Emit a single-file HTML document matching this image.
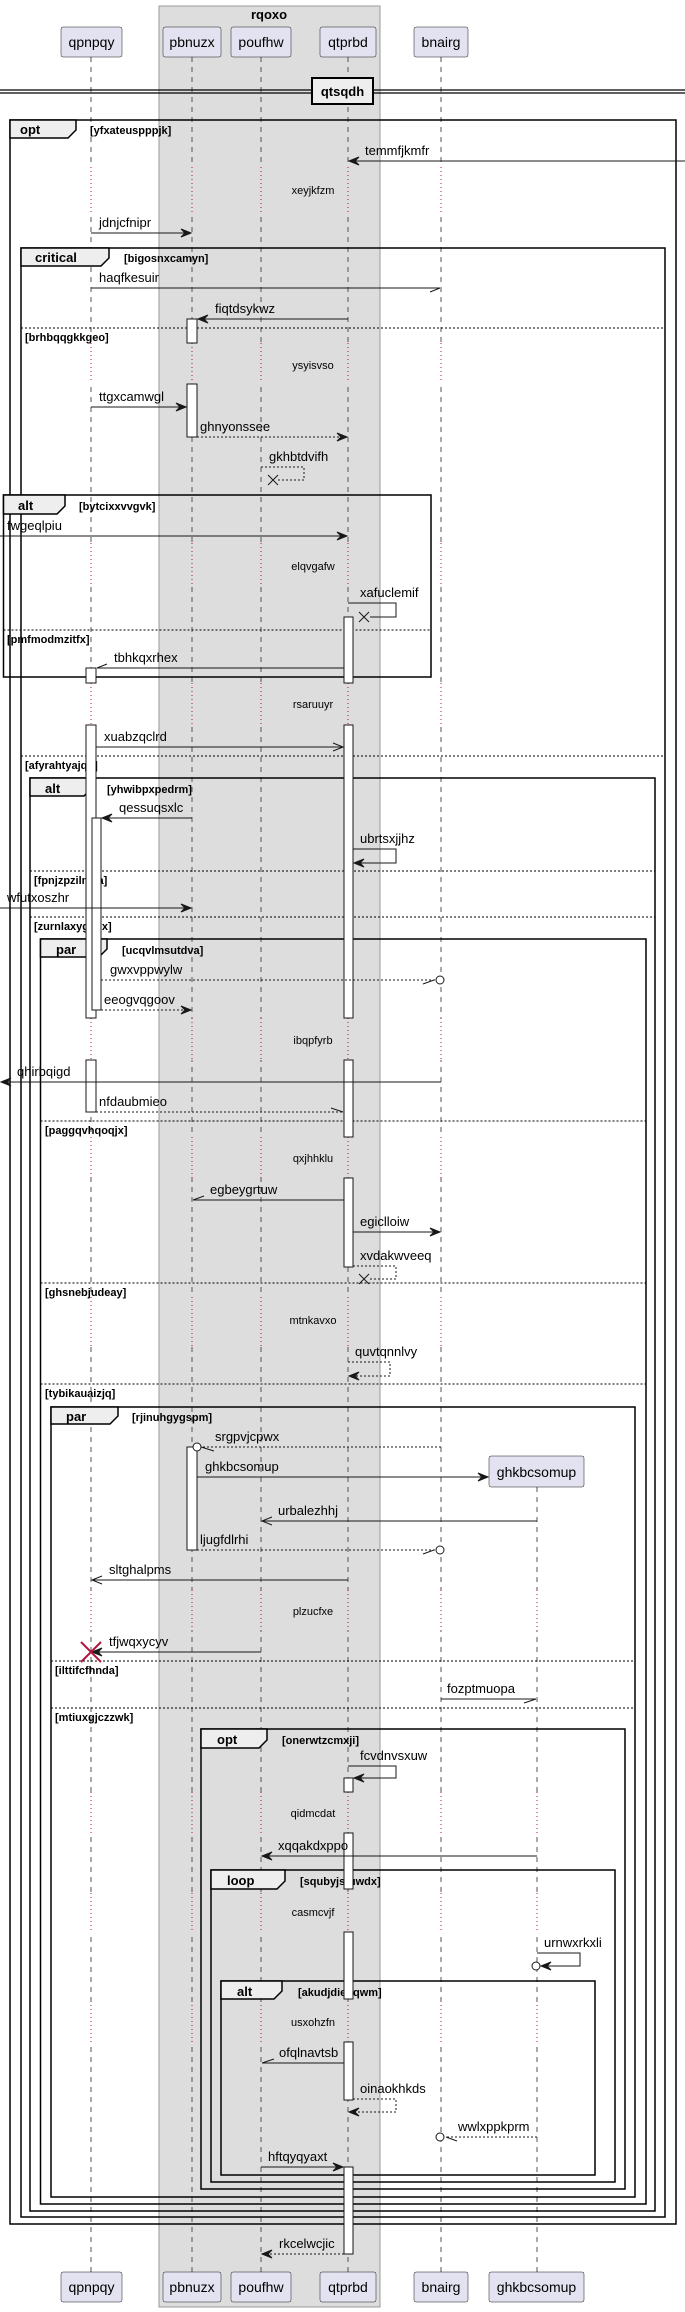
<!DOCTYPE html>
<html><head><meta charset="utf-8"><style>
html,body{margin:0;padding:0;background:#fff}
svg{display:block}
text{font-family:"Liberation Sans",sans-serif;fill:#000}
.m{font-size:13px}
.d{font-size:11px}
.b{font-weight:bold;font-size:13px}
.c{font-weight:bold;font-size:11px}
.p{font-size:14px}
.ll{stroke:#555;stroke-width:1;stroke-dasharray:5,5}
.s{stroke:#181818;stroke-width:1;fill:none}
.ds{stroke:#181818;stroke-width:1;fill:none;stroke-dasharray:2,2}
.fr{stroke:#000;stroke-width:1.5;fill:none}
.tab{stroke:#000;stroke-width:1.5;fill:#eee}
.el{stroke:#000;stroke-width:1;stroke-dasharray:2,2}
.act{fill:#fff;stroke:#181818;stroke-width:1}
.ar{fill:#181818;stroke:#181818;stroke-width:1}
.pb{fill:#e2e2f0;stroke:#181818;stroke-width:0.5}
</style></head><body>
<svg width="685" height="2312" xmlns="http://www.w3.org/2000/svg">
<rect x="159" y="6" width="221" height="2301" fill="#dddddd" stroke="#999"/>
<text x="269" y="19" class="b" text-anchor="middle">rqoxo</text>

<!-- lifelines -->
<g class="ll">
<line x1="91" y1="57" x2="91" y2="2272"/>
<line x1="192" y1="57" x2="192" y2="2272"/>
<line x1="261" y1="57" x2="261" y2="2272"/>
<line x1="348" y1="57" x2="348" y2="2272"/>
<line x1="441" y1="57" x2="441" y2="2272"/>
<line x1="537" y1="1487" x2="537" y2="2272"/>
</g>
<!-- delays -->
<g>
<g stroke-width="3">
<path stroke="#fff" d="M91 167V213M441 167V213M91 343V383M441 343V383M91 543V587M441 543V587M91 683V725M441 683V725M91 1018V1060M441 1018V1060M91 1137V1178M441 1137V1178M91 1297V1347M441 1297V1347M91 1590V1630M441 1590V1630M537 1590V1630M91 1792V1833M441 1792V1833M537 1792V1833M91 1893V1932M441 1893V1932M537 1893V1932M91 2005V2042M441 2005V2042M537 2005V2042"/>
<path stroke="#ddd" d="M192 167V213M261 167V213M348 167V213M192 343V383M261 343V383M348 343V383M192 543V587M261 543V587M348 543V587M192 683V725M261 683V725M348 683V725M192 1018V1060M261 1018V1060M348 1018V1060M192 1137V1178M261 1137V1178M348 1137V1178M192 1297V1347M261 1297V1347M348 1297V1347M192 1590V1630M261 1590V1630M348 1590V1630M192 1792V1833M261 1792V1833M348 1792V1833M192 1893V1932M261 1893V1932M348 1893V1932M192 2005V2042M261 2005V2042M348 2005V2042"/>
</g>
<path stroke="#b0143c" stroke-width="1" stroke-dasharray="1,3" d="M91 167V213M192 167V213M261 167V213M348 167V213M441 167V213M91 343V383M192 343V383M261 343V383M348 343V383M441 343V383M91 543V587M192 543V587M261 543V587M348 543V587M441 543V587M91 683V725M192 683V725M261 683V725M348 683V725M441 683V725M91 1018V1060M192 1018V1060M261 1018V1060M348 1018V1060M441 1018V1060M91 1137V1178M192 1137V1178M261 1137V1178M348 1137V1178M441 1137V1178M91 1297V1347M192 1297V1347M261 1297V1347M348 1297V1347M441 1297V1347M91 1590V1630M192 1590V1630M261 1590V1630M348 1590V1630M441 1590V1630M537 1590V1630M91 1792V1833M192 1792V1833M261 1792V1833M348 1792V1833M441 1792V1833M537 1792V1833M91 1893V1932M192 1893V1932M261 1893V1932M348 1893V1932M441 1893V1932M537 1893V1932M91 2005V2042M192 2005V2042M261 2005V2042M348 2005V2042M441 2005V2042M537 2005V2042"/>
</g>
<g class="d">
<text x="313" y="194" text-anchor="middle">xeyjkfzm</text>
<text x="313" y="369" text-anchor="middle">ysyisvso</text>
<text x="313" y="570" text-anchor="middle">elqvgafw</text>
<text x="313" y="708" text-anchor="middle">rsaruuyr</text>
<text x="313" y="1044" text-anchor="middle">ibqpfyrb</text>
<text x="313" y="1162" text-anchor="middle">qxjhhklu</text>
<text x="313" y="1324" text-anchor="middle">mtnkavxo</text>
<text x="313" y="1615" text-anchor="middle">plzucfxe</text>
<text x="313" y="1817" text-anchor="middle">qidmcdat</text>
<text x="313" y="1916" text-anchor="middle">casmcvjf</text>
<text x="313" y="2026" text-anchor="middle">usxohzfn</text>
</g>

<!-- divider -->
<line x1="0" y1="90" x2="685" y2="90" stroke="#000" stroke-width="1.2"/>
<line x1="0" y1="93" x2="685" y2="93" stroke="#000" stroke-width="1.2"/>
<rect x="312" y="78" width="61" height="26" fill="#eee" stroke="#000" stroke-width="2"/>
<text x="342.5" y="96" class="b" text-anchor="middle">qtsqdh</text>

<!-- frames -->
<rect class="fr" x="10" y="120" width="666" height="2104"/>
<path class="tab" d="M10 120H76V130L68 138H10Z"/><text x="20" y="134" class="b">opt</text><text x="90" y="134" class="c">[yfxateuspppjk]</text>
<rect class="fr" x="21" y="248" width="644" height="1969"/>
<path class="tab" d="M21 248H109V258L101 266H21Z"/><text x="35" y="262" class="b">critical</text><text x="124" y="262" class="c">[bigosnxcamyn]</text>
<line class="el" x1="21" y1="328" x2="665" y2="328"/><text x="25" y="341" class="c">[brhbqqgkkgeo]</text>
<line class="el" x1="21" y1="756" x2="665" y2="756"/><text x="25" y="769" class="c">[afyrahtyajqb]</text>
<rect class="fr" x="3.5" y="495" width="427.5" height="182"/>
<path class="tab" d="M3.5 495H65V506L57 514H3.5Z"/><text x="18" y="510" class="b">alt</text><text x="79" y="510" class="c">[bytcixxvvgvk]</text>
<line class="el" x1="3.5" y1="630" x2="431" y2="630"/><text x="7" y="643" class="c">[pmfmodmzitfx]</text>
<rect class="fr" x="30" y="778" width="625" height="1433"/>
<path class="tab" d="M30 778H92V788L84 796H30Z"/><text x="45" y="793" class="b">alt</text><text x="107" y="793" class="c">[yhwibpxpedrm]</text>
<line class="el" x1="30" y1="871" x2="655" y2="871"/><text x="34" y="884" class="c">[fpnjzpzilmaa]</text>
<line class="el" x1="30" y1="917" x2="655" y2="917"/><text x="34" y="930" class="c">[zurnlaxygehx]</text>
<rect class="fr" x="40.5" y="939" width="605.5" height="1265"/>
<path class="tab" d="M40.5 939H107V949L99 957H40.5Z"/><text x="56" y="954" class="b">par</text><text x="122" y="954" class="c">[ucqvlmsutdva]</text>
<line class="el" x1="40.5" y1="1121" x2="646" y2="1121"/><text x="45" y="1134" class="c">[paggqvhqoqjx]</text>
<line class="el" x1="40.5" y1="1283" x2="646" y2="1283"/><text x="45" y="1296" class="c">[ghsnebjudeay]</text>
<line class="el" x1="40.5" y1="1384" x2="646" y2="1384"/><text x="45" y="1397" class="c">[tybikauaizjq]</text>
<rect class="fr" x="51" y="1407" width="584" height="790"/>
<path class="tab" d="M51 1407H118V1416L110 1424H51Z"/><text x="66" y="1421" class="b">par</text><text x="132" y="1421" class="c">[rjinuhgygspm]</text>
<line class="el" x1="51" y1="1661" x2="635" y2="1661"/><text x="55" y="1674" class="c">[ilttifcfhnda]</text>
<line class="el" x1="51" y1="1708" x2="635" y2="1708"/><text x="55" y="1721" class="c">[mtiuxgjczzwk]</text>
<rect class="fr" x="201" y="1729" width="424" height="460"/>
<path class="tab" d="M201 1729H267V1740L259 1748H201Z"/><text x="217" y="1744" class="b">opt</text><text x="282" y="1744" class="c">[onerwtzcmxji]</text>
<rect class="fr" x="211" y="1870" width="404" height="312"/>
<path class="tab" d="M211 1870H285V1881L277 1889H211Z"/><text x="227" y="1885" class="b">loop</text><text x="300" y="1885" class="c">[squbyjstuwdx]</text>
<rect class="fr" x="221" y="1981" width="374" height="194"/>
<path class="tab" d="M221 1981H282V1991L274 1999H221Z"/><text x="237" y="1996" class="b">alt</text><text x="298" y="1996" class="c">[akudjdiepqwm]</text>

<!-- activations -->
<g class="act">
<rect x="187" y="319" width="10" height="24"/>
<rect x="187" y="384" width="10" height="53"/>
<rect x="344" y="617" width="9" height="66"/>
<rect x="86" y="668" width="10" height="15"/>
<rect x="86" y="725" width="10" height="293"/>
<rect x="86" y="1060" width="10" height="52"/>
<rect x="344" y="725" width="9" height="293"/>
<rect x="344" y="1060" width="9" height="77"/>
<rect x="344" y="1178" width="9" height="89"/>
<rect x="92" y="818" width="9" height="192"/>
<rect x="187" y="1447" width="10" height="103"/>
<rect x="344" y="1778" width="9" height="14"/>
<rect x="344" y="1833" width="9" height="56"/>
<rect x="344" y="1932" width="9" height="67"/>
<rect x="344" y="2042" width="9" height="58"/>
<rect x="344" y="2167" width="9" height="87"/>
</g>

<!-- messages -->
<g class="m">
<line class="s" x1="353" y1="161" x2="685" y2="161"/><polygon class="ar" points="349,161 359,157 355,161 359,165"/><text x="365" y="155">temmfjkmfr</text>
<line class="s" x1="91" y1="233" x2="190" y2="233"/><polygon class="ar" points="191,233 181,229 185,233 181,237"/><text x="99" y="227">jdnjcfnipr</text>
<line class="s" x1="91" y1="288" x2="440" y2="288"/><line class="s" x1="440" y1="288" x2="430" y2="292"/><text x="99" y="282">haqfkesuir</text>
<line class="s" x1="348" y1="319" x2="199" y2="319"/><polygon class="ar" points="198,319 208,315 204,319 208,323"/><text x="215" y="313">fiqtdsykwz</text>
<line class="s" x1="91" y1="407" x2="185" y2="407"/><polygon class="ar" points="186,407 176,403 180,407 176,411"/><text x="99" y="401">ttgxcamwgl</text>
<line class="ds" x1="197" y1="437" x2="346" y2="437"/><polygon class="ar" points="347,437 337,433 341,437 337,441"/><text x="200" y="431">ghnyonssee</text>
<polyline class="ds" points="261,467 304,467 304,480 278,480"/><path class="s" stroke-width="1.6" d="M268 475L278 485M278 475L268 485"/><text x="269" y="461">gkhbtdvifh</text>
<line class="s" x1="0" y1="536" x2="346" y2="536"/><polygon class="ar" points="347,536 337,532 341,536 337,540"/><text x="7" y="530">fwgeqlpiu</text>
<polyline class="s" points="348,603 396,603 396,617 370,617"/><path class="s" stroke-width="1.6" d="M359 612L369 622M369 612L359 622"/><text x="360" y="597">xafuclemif</text>
<line class="s" x1="344" y1="668" x2="97" y2="668"/><line class="s" x1="97" y1="668" x2="107" y2="664"/><text x="114" y="662">tbhkqxrhex</text>
<line class="s" x1="96" y1="747" x2="343" y2="747"/><polyline class="s" points="333,743 343,747 333,751"/><text x="104" y="741">xuabzqclrd</text>
<line class="s" x1="192" y1="818" x2="103" y2="818"/><polygon class="ar" points="102,818 112,814 108,818 112,822"/><text x="119" y="812">qessuqsxlc</text>
<polyline class="s" points="353,849 396,849 396,863 355,863"/><polygon class="ar" points="354,863 364,859 360,863 364,867"/><text x="360" y="843">ubrtsxjjhz</text>
<line class="s" x1="0" y1="908" x2="190" y2="908"/><polygon class="ar" points="191,908 181,904 185,908 181,912"/><text x="7" y="902">wfutxoszhr</text>
<line class="ds" x1="101" y1="980" x2="436" y2="980"/><line class="s" x1="434" y1="980" x2="423" y2="984"/><circle cx="440" cy="980" r="4" fill="#fff" stroke="#181818"/><text x="110" y="974">gwxvppwylw</text>
<line class="ds" x1="101" y1="1010" x2="190" y2="1010"/><polygon class="ar" points="191,1010 181,1006 185,1010 181,1014"/><text x="104" y="1004">eeogvqgoov</text>
<line class="s" x1="441" y1="1082" x2="2" y2="1082"/><polygon class="ar" points="1,1082 11,1078 7,1082 11,1086"/><text x="17" y="1076">qhirbqigd</text>
<line class="ds" x1="96" y1="1112" x2="343" y2="1112"/><line class="s" x1="343" y1="1112" x2="331" y2="1108"/><text x="99" y="1106">nfdaubmieo</text>
<line class="s" x1="344" y1="1200" x2="193" y2="1200"/><line class="s" x1="193" y1="1200" x2="204" y2="1196"/><text x="210" y="1194">egbeygrtuw</text>
<line class="s" x1="353" y1="1232" x2="439" y2="1232"/><polygon class="ar" points="440,1232 430,1228 434,1232 430,1236"/><text x="360" y="1226">egiclloiw</text>
<polyline class="ds" points="353,1266 396,1266 396,1279 370,1279"/><path class="s" stroke-width="1.6" d="M359 1274L369 1284M369 1274L359 1284"/><text x="360" y="1260">xvdakwveeq</text>
<polyline class="ds" points="348,1362 390,1362 390,1376 350,1376"/><polygon class="ar" points="349,1376 359,1372 355,1376 359,1380"/><text x="355" y="1356">quvtqnnlvy</text>
<line class="ds" x1="441" y1="1447" x2="201" y2="1447"/><line class="s" x1="201" y1="1447" x2="214" y2="1451"/><circle cx="197" cy="1447" r="4" fill="#fff" stroke="#181818"/><text x="215" y="1441">srgpvjcpwx</text>
<line class="s" x1="197" y1="1477" x2="487" y2="1477"/><polygon class="ar" points="488,1477 478,1473 482,1477 478,1481"/><text x="205" y="1471">ghkbcsomup</text>
<line class="s" x1="537" y1="1521" x2="262" y2="1521"/><polyline class="s" points="272,1517 262,1521 272,1525"/><text x="278" y="1515">urbalezhhj</text>
<line class="ds" x1="197" y1="1550" x2="436" y2="1550"/><line class="s" x1="434" y1="1550" x2="423" y2="1554"/><circle cx="440" cy="1550" r="4" fill="#fff" stroke="#181818"/><text x="200" y="1544">ljugfdlrhi</text>
<line class="s" x1="348" y1="1580" x2="92" y2="1580"/><polyline class="s" points="102,1576 92,1580 102,1584"/><text x="109" y="1574">sltghalpms</text>
<line class="s" x1="261" y1="1652" x2="93" y2="1652"/><polygon class="ar" points="92,1652 102,1648 98,1652 102,1656"/><path stroke="#b0143c" stroke-width="2" d="M81 1642L101 1662M101 1642L81 1662"/><text x="109" y="1646">tfjwqxycyv</text>
<line class="s" x1="441" y1="1699" x2="536" y2="1699"/><line class="s" x1="536" y1="1699" x2="524" y2="1703"/><text x="447" y="1693">fozptmuopa</text>
<polyline class="s" points="348,1766 396,1766 396,1778 355,1778"/><polygon class="ar" points="354,1778 364,1774 360,1778 364,1782"/><text x="360" y="1760">fcvdnvsxuw</text>
<line class="s" x1="537" y1="1856" x2="263" y2="1856"/><polygon class="ar" points="262,1856 272,1852 268,1856 272,1860"/><text x="278" y="1850">xqqakdxppo</text>
<polyline class="s" points="537,1953 580,1953 580,1966 542,1966"/><polygon class="ar" points="541,1966 551,1962 547,1966 551,1970"/><circle cx="536" cy="1966" r="4" fill="#fff" stroke="#181818"/><text x="544" y="1947">urnwxrkxli</text>
<line class="s" x1="344" y1="2063" x2="262" y2="2063"/><line class="s" x1="262" y1="2063" x2="274" y2="2059"/><text x="279" y="2057">ofqlnavtsb</text>
<polyline class="ds" points="353,2099 396,2099 396,2112 350,2112"/><polygon class="ar" points="349,2112 359,2108 355,2112 359,2116"/><text x="360" y="2093">oinaokhkds</text>
<line class="ds" x1="537" y1="2137" x2="445" y2="2137"/><line class="s" x1="446" y1="2137" x2="457" y2="2141"/><circle cx="440" cy="2137" r="4" fill="#fff" stroke="#181818"/><text x="458" y="2131">wwlxppkprm</text>
<line class="s" x1="261" y1="2167" x2="342" y2="2167"/><polygon class="ar" points="343,2167 333,2163 337,2167 333,2171"/><text x="268" y="2161">hftqyqyaxt</text>
<line class="ds" x1="344" y1="2254" x2="263" y2="2254"/><polygon class="ar" points="262,2254 272,2250 268,2254 272,2258"/><text x="279" y="2248">rkcelwcjic</text>
</g>

<!-- participants -->
<g class="p">
<rect class="pb" x="61" y="27" width="61" height="30" rx="2"/><text x="91.5" y="47" text-anchor="middle">qpnpqy</text>
<rect class="pb" x="163" y="27" width="58" height="30" rx="2"/><text x="192" y="47" text-anchor="middle">pbnuzx</text>
<rect class="pb" x="231" y="27" width="60" height="30" rx="2"/><text x="261" y="47" text-anchor="middle">poufhw</text>
<rect class="pb" x="320" y="27" width="56" height="30" rx="2"/><text x="348" y="47" text-anchor="middle">qtprbd</text>
<rect class="pb" x="414" y="27" width="54" height="30" rx="2"/><text x="441" y="47" text-anchor="middle">bnairg</text>
<rect class="pb" x="489" y="1456" width="95" height="31" rx="2"/><text x="536.5" y="1477" text-anchor="middle">ghkbcsomup</text>
<rect class="pb" x="61" y="2272" width="61" height="30" rx="2"/><text x="91.5" y="2292" text-anchor="middle">qpnpqy</text>
<rect class="pb" x="163" y="2272" width="58" height="30" rx="2"/><text x="192" y="2292" text-anchor="middle">pbnuzx</text>
<rect class="pb" x="231" y="2272" width="60" height="30" rx="2"/><text x="261" y="2292" text-anchor="middle">poufhw</text>
<rect class="pb" x="320" y="2272" width="56" height="30" rx="2"/><text x="348" y="2292" text-anchor="middle">qtprbd</text>
<rect class="pb" x="414" y="2272" width="54" height="30" rx="2"/><text x="441" y="2292" text-anchor="middle">bnairg</text>
<rect class="pb" x="489" y="2272" width="95" height="30" rx="2"/><text x="536.5" y="2292" text-anchor="middle">ghkbcsomup</text>
</g>
</svg>
</body></html>
